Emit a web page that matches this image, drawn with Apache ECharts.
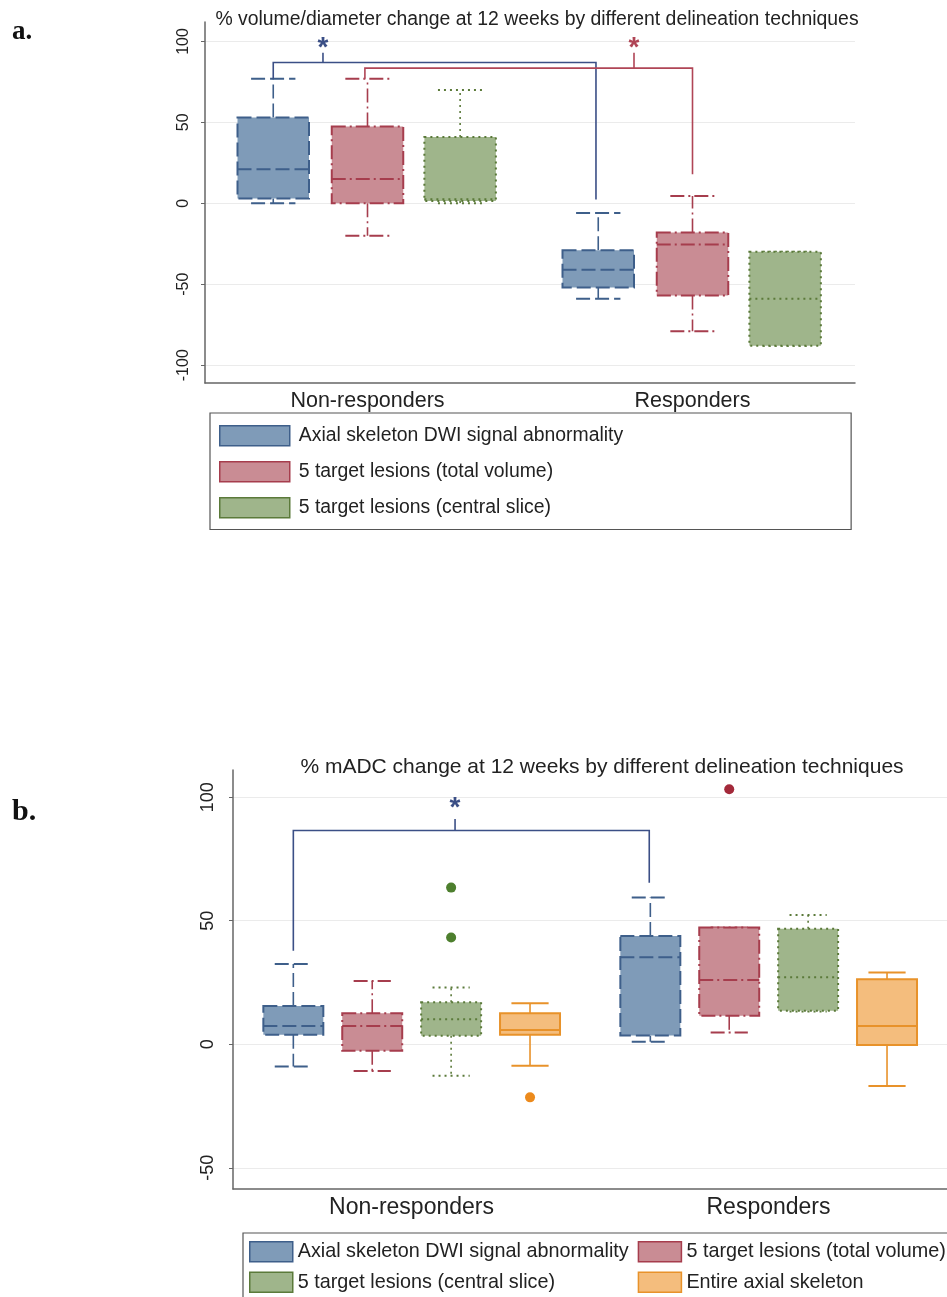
<!DOCTYPE html>
<html><head><meta charset="utf-8">
<script src="https://cdn.jsdelivr.net/npm/echarts@6/dist/echarts.min.js"></script>
<style>html,body{margin:0;padding:0;background:#fff}#c{width:947px;height:1297px}</style>
</head><body><div id="c"></div><script>
// ---------- DATA ----------
const categories = ['Non-responders', 'Responders'];
const seriesNames = ['Axial skeleton DWI signal abnormality', '5 target lesions (total volume)', '5 target lesions (central slice)', 'Entire axial skeleton'];
// each row: [lower whisker, Q1, median, Q3, upper whisker] per category
const volAxial   = [[0, 3, 21, 53, 77], [-59, -52, -41, -29, -6]];
const volTotal   = [[-20, 0, 15, 47.5, 77], [-79, -57, -25.5, -18, 4.5]];
const volCentral = [[0, 1.5, 2.5, 41, 70], [-88, -88, -59, -30, -30]];
const adcAxial   = [[-9, 3.8, 7.4, 15.5, 32.5], [1, 3.5, 35.2, 43.8, 59.4]];
const adcTotal   = [[-10.8, -2.6, 7.4, 12.5, 25.6], [4.7, 11.5, 26, 47.2, 47.2]];
const adcCentral = [[-12.8, 3.4, 10.1, 17, 23], [13.2, 13.6, 27.1, 46.7, 52.3]];
const adcEntire  = [[-8.7, 3.8, 5.8, 12.5, 16.6], [-16.9, -0.3, 7.4, 26.3, 29]];
// outliers: [category index, value]
const adcOutTotal   = [[1, 103.2]];
const adcOutCentral = [[0, 63.4], [0, 43.2]];
const adcOutEntire  = [[0, -21.5]];
// significance brackets: [from category, to category, bracket level, left leg end, right leg end, tick top, star level]
const volBracketAxial = [[0, 1, 87, 77, 2.3, 93, 95.5]];
const volBracketTotal = [[0, 1, 83.5, 77, 17.9, 93, 95.5]];
const adcBracketAxial = [[0, 1, 86.5, 37.8, 65.4, 91.2, 95.5]];
const titleTop = '% volume/diameter change at 12 weeks by different delineation techniques';
const titleBottom = '% mADC change at 12 weeks by different delineation techniques';

// ---------- STYLES ----------
const STY = {
  axial:   {fill: '#7f9bb8', stroke: '#3e5f8a', dash: [14, 5]},
  total:   {fill: '#c98c94', stroke: '#a63d4d', dash: [14, 4, 2, 4]},
  central: {fill: '#9fb58b', stroke: '#5b7a3a', dash: [2, 4]},
  entire:  {fill: '#f4bd7d', stroke: '#e8922a', dash: null}
};
const FONT = 'Liberation Sans, Arial, sans-serif';

function makeBoxRender(st, offset, width) {
  return function (params, api) {
    const cat = api.value(0);
    const band = api.size([1, 0])[0];
    const cx = api.coord([cat, 0])[0] + offset * band;
    const w = width * band;
    const capW = w * 0.62;
    const y = [1, 2, 3, 4, 5].map(k => api.coord([cat, api.value(k)])[1]);
    const [yLow, yQ1, yMed, yQ3, yHigh] = y;
    const ln = (x1, y1, x2, y2, lw) => ({type: 'line', shape: {x1, y1, x2, y2},
      style: {stroke: st.stroke, lineWidth: lw, lineDash: st.dash, fill: 'none'}});
    return {type: 'group', children: [
      ln(cx, yQ3, cx, yHigh, 1.6),
      ln(cx, yQ1, cx, yLow, 1.6),
      ln(cx - capW / 2, yHigh, cx + capW / 2, yHigh, 2),
      ln(cx - capW / 2, yLow, cx + capW / 2, yLow, 2),
      {type: 'rect', shape: {x: cx - w / 2, y: yQ3, width: w, height: yQ1 - yQ3},
        style: {fill: st.fill, stroke: st.stroke, lineWidth: 2, lineDash: st.dash}},
      ln(cx - w / 2, yMed, cx + w / 2, yMed, 2)
    ]};
  };
}
function makeOutlierRender(color, offset) {
  return function (params, api) {
    const cat = api.value(0);
    const band = api.size([1, 0])[0];
    const p = api.coord([cat, api.value(1)]);
    return {type: 'circle', shape: {cx: p[0] + offset * band, cy: p[1], r: 5}, style: {fill: color}};
  };
}
function makeBracketRender(color, lOff, rOff, tickCat, tickOff) {
  return function (params, api) {
    const c1 = api.value(0), c2 = api.value(1);
    const band = api.size([1, 0])[0];
    const x1 = api.coord([c1, 0])[0] + lOff * band;
    const x2 = api.coord([c2, 0])[0] + rOff * band;
    const xt = api.coord([tickCat, 0])[0] + tickOff * band;
    const yv = k => api.coord([c1, api.value(k)])[1];
    return {type: 'group', children: [
      {type: 'polyline', shape: {points: [[x1, yv(3)], [x1, yv(2)], [x2, yv(2)], [x2, yv(4)]]},
        style: {stroke: color, lineWidth: 1.6, fill: 'none'}},
      {type: 'line', shape: {x1: xt, y1: yv(2), x2: xt, y2: yv(5)}, style: {stroke: color, lineWidth: 1.6}},
      {type: 'text', x: xt, y: yv(6), style: {text: '*', fill: color, font: 'bold 28px ' + FONT, align: 'center', verticalAlign: 'middle'}}
    ]};
  };
}
const rows = arr => arr.map((d, i) => [i].concat(d));
function boxSeries(name, data, st, offset, width, gi) {
  return {type: 'custom', name, xAxisIndex: gi, yAxisIndex: gi, data: rows(data), silent: true,
    encode: {x: 0, y: [1, 2, 3, 4, 5]}, itemStyle: {color: st.fill, borderColor: st.stroke},
    renderItem: makeBoxRender(st, offset, width), z: 3};
}
function outSeries(name, data, color, offset, gi) {
  return {type: 'custom', name, xAxisIndex: gi, yAxisIndex: gi, data, silent: true,
    encode: {x: 0, y: 1}, renderItem: makeOutlierRender(color, offset), z: 4};
}
function bracketSeries(name, data, color, lOff, rOff, tickCat, tickOff, gi) {
  return {type: 'custom', name, xAxisIndex: gi, yAxisIndex: gi, data, silent: true,
    encode: {x: [0, 1], y: [2]}, renderItem: makeBracketRender(color, lOff, rOff, tickCat, tickOff), z: 5};
}
const legendItem = (name, st) => ({name, icon: 'rect',
  itemStyle: {color: st.fill, borderColor: st.stroke, borderWidth: 1.5}});

function xAxisCfg(gi, fs) {
  return {type: 'category', gridIndex: gi, data: categories,
    axisLine: {onZero: false, lineStyle: {color: '#666', width: 1.5}}, axisTick: {show: false},
    axisLabel: {fontSize: fs, color: '#222', fontFamily: FONT, margin: 7},
    splitLine: {show: false}};
}
function yAxisCfg(gi, min, max, fs, margin, split) {
  return {type: 'value', gridIndex: gi, min, max, splitNumber: split, minInterval: 50, maxInterval: 50,
    axisLine: {show: true, onZero: false, lineStyle: {color: '#666', width: 1.5}},
    axisTick: {show: true, length: 4, lineStyle: {color: '#666'}},
    axisLabel: {rotate: 90, fontSize: fs, color: '#222', fontFamily: FONT, margin, showMinLabel: false, showMaxLabel: false},
    splitLine: {show: true, showMinLine: false, showMaxLine: false, lineStyle: {color: '#ebebeb', width: 1}}};
}

const option = {
  animation: false,
  backgroundColor: '#ffffff',
  textStyle: {fontFamily: FONT},
  title: [
    {text: titleTop, left: 532, top: 5, textAlign: 'center', textStyle: {fontSize: 19.4, fontWeight: 'normal', color: '#222', fontFamily: FONT}},
    {text: titleBottom, left: 597, top: 752, textAlign: 'center', textStyle: {fontSize: 21, fontWeight: 'normal', color: '#222', fontFamily: FONT}},
    {text: 'a.', left: 7, top: 14, textStyle: {fontSize: 27, fontWeight: 'bold', color: '#111', fontFamily: 'Liberation Serif, DejaVu Serif, serif'}},
    {text: 'b.', left: 7, top: 792, textStyle: {fontSize: 30, fontWeight: 'bold', color: '#111', fontFamily: 'Liberation Serif, DejaVu Serif, serif'}}
  ],
  grid: [
    {left: 205, top: 22, width: 650, height: 361},
    {left: 233, top: 770, width: 714, height: 419}
  ],
  xAxis: [xAxisCfg(0, 21.5), xAxisCfg(1, 23)],
  yAxis: [yAxisCfg(0, -111, 112, 16, 13, 4), yAxisCfg(1, -58.6, 111, 18, 16, 3)],
  legend: [
    {left: 210, top: 413, orient: 'vertical', itemWidth: 70, itemHeight: 20, itemGap: 14.5,
      padding: [12, 228, 11, 9], borderColor: '#555', borderWidth: 1.2, selectedMode: false,
      textStyle: {fontSize: 19.4, color: '#222', fontFamily: FONT, padding: [0, 0, 0, 4]},
      data: [legendItem(seriesNames[0], STY.axial), legendItem(seriesNames[1], STY.total), legendItem(seriesNames[2], STY.central)]},
    {left: 243, top: 1233, orient: 'vertical', height: 56, itemWidth: 43, itemHeight: 20, itemGap: 9,
      padding: [8, 400, 40, 6], borderColor: '#555', borderWidth: 1.2, selectedMode: false,
      textStyle: {fontSize: 19.8, color: '#222', fontFamily: FONT},
      data: [legendItem(seriesNames[0], STY.axial), legendItem(seriesNames[2], STY.central),
             legendItem(seriesNames[1], STY.total), legendItem(seriesNames[3], STY.entire)]}
  ],
  series: [
    boxSeries(seriesNames[0], volAxial, STY.axial, -0.29, 0.22, 0),
    boxSeries(seriesNames[1], volTotal, STY.total, 0, 0.22, 0),
    boxSeries(seriesNames[2], volCentral, STY.central, 0.285, 0.22, 0),
    bracketSeries('sig-vol-axial', volBracketAxial, '#3b4f86', -0.29, -0.297, 0, -0.137, 0),
    bracketSeries('sig-vol-total', volBracketTotal, '#b04556', -0.008, 0, 1, -0.18, 0),
    boxSeries(seriesNames[0], adcAxial, STY.axial, -0.331, 0.168, 1),
    boxSeries(seriesNames[1], adcTotal, STY.total, -0.11, 0.168, 1),
    boxSeries(seriesNames[2], adcCentral, STY.central, 0.111, 0.168, 1),
    boxSeries(seriesNames[3], adcEntire, STY.entire, 0.332, 0.168, 1),
    outSeries('out-total', adcOutTotal, '#a3293a', -0.11, 1),
    outSeries('out-central', adcOutCentral, '#4d7f2e', 0.111, 1),
    outSeries('out-entire', adcOutEntire, '#ec8a1c', 0.332, 1),
    bracketSeries('sig-adc-axial', adcBracketAxial, '#3b4f86', -0.331, -0.334, 0, 0.122, 1)
  ]
};
const chart = echarts.init(document.getElementById('c'), null, {renderer: 'canvas'});
chart.setOption(option);
</script></body></html>
